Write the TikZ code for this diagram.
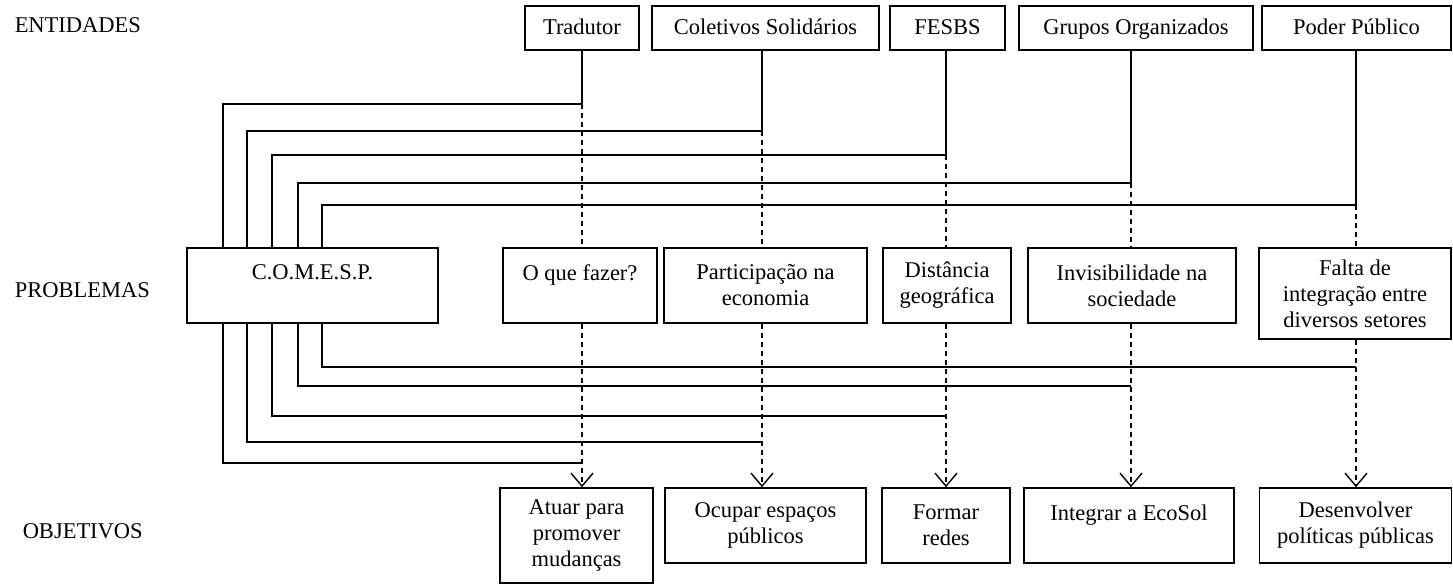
\documentclass[tikz,border=0pt]{standalone}
\usepackage{fontspec}
\setmainfont{Liberation Serif}
\usetikzlibrary{positioning,arrows.meta}

\begin{document}
\begin{tikzpicture}[x=1pt, y=-1pt, line width=1.5pt, >={Straight Barb[length=13pt,width=22pt,line width=1.4pt]}]
    % Define styles
    \tikzset{caixa/.style={draw, line width=1.6pt, align=center, inner sep=0pt, font=\fontsize{22.5}{26}\selectfont}}
    \tikzset{entidade/.style={caixa, minimum height=44pt, text height=15pt, text depth=2pt}}
    \tikzset{problema/.style={caixa, minimum height=75pt}}
    \tikzset{rotulo/.style={anchor=west, inner sep=0pt, font=\fontsize{22.5}{26}\selectfont}}
    \tikzset{tracejado/.style={dash pattern=on 5pt off 4pt}}

    \useasboundingbox (0,0) rectangle (1453,585);

    % Row labels
    \node[rotulo] (ent) at (14,25) {ENTIDADES};
    \node[rotulo] (prob) at (14,290) {PROBLEMAS};
    \node[rotulo] (obj) at (22,531) {OBJETIVOS};

    % Draw entities
    \node[entidade, minimum width=114pt] (trad) at (582,28) {Tradutor};
    \node[entidade, minimum width=227pt] (colet) at (765.5,28) {Coletivos Solidários};
    \node[entidade, minimum width=115pt] (fesbs) at (947.5,28) {FESBS};
    \node[entidade, minimum width=234pt] (grupos) at (1136,28) {Grupos Organizados};
    \node[entidade, minimum width=189pt] (poder) at (1356.5,28) {Poder Público};

    % Draw problems
    \node[problema, minimum width=251pt] (comesp) at (312.5,285.5) {C.O.M.E.S.P.\\\mbox{}};
    \node[problema, minimum width=154pt] (oque) at (580,285.5) {O que fazer?\\\mbox{}};
    \node[problema, minimum width=203pt] (partic) at (765.5,285.5) {Participação na\\economia};
    \node[problema, minimum width=128pt] (dist) at (947,285.5) {Distância\\geográfica};
    \node[problema, minimum width=208pt] (invis) at (1132,285.5) {Invisibilidade na\\sociedade};
    \node[problema, minimum width=192pt, minimum height=91pt] (falta) at (1355,293.5) {Falta de\\integração entre\\diversos setores};

    % Draw objectives
    \node[problema, minimum width=153pt, minimum height=95pt] (atuar) at (576.5,535.5) {Atuar para\\promover\\mudanças};
    \node[problema, minimum width=201pt] (ocupar) at (765.5,525.5) {Ocupar espaços\\públicos};
    \node[problema, minimum width=128pt] (formar) at (946,525.5) {Formar\\redes};
    \node[problema, minimum width=210pt] (integrar) at (1129,525.5) {Integrar a EcoSol\\\mbox{}};
    \node[problema, minimum width=192pt] (desenv) at (1355.5,525.5) {Desenvolver\\políticas públicas};

    % Junctions and return levels
    \coordinate (jtrad) at (582,104);
    \coordinate (jcolet) at (762,131);
    \coordinate (jfesbs) at (946,155);
    \coordinate (jgrupos) at (1131,183);
    \coordinate (jpoder) at (1356,205);
    \coordinate (rtrad) at (582,463);
    \coordinate (rcolet) at (762,442);
    \coordinate (rfesbs) at (946,416);
    \coordinate (rgrupos) at (1131,386);
    \coordinate (rpoder) at (1356,367);

    % Entities to C.O.M.E.S.P.
    \draw (trad.south -| jtrad) -- (jtrad) -| ([xshift=37pt]comesp.north west);
    \draw (colet.south -| jcolet) -- (jcolet) -| ([xshift=61pt]comesp.north west);
    \draw (fesbs.south -| jfesbs) -- (jfesbs) -| ([xshift=86pt]comesp.north west);
    \draw (grupos.south -| jgrupos) -- (jgrupos) -| ([xshift=112pt]comesp.north west);
    \draw (poder.south -| jpoder) -- (jpoder) -| ([xshift=136pt]comesp.north west);

    % C.O.M.E.S.P. back to each column
    \draw ([xshift=37pt]comesp.south west) |- (rtrad);
    \draw ([xshift=61pt]comesp.south west) |- (rcolet);
    \draw ([xshift=86pt]comesp.south west) |- (rfesbs);
    \draw ([xshift=112pt]comesp.south west) |- (rgrupos);
    \draw ([xshift=136pt]comesp.south west) |- (rpoder);

    % Entities to problems
    \draw[tracejado] (jtrad) -- (oque.north -| jtrad);
    \draw[tracejado] (jcolet) -- (partic.north -| jcolet);
    \draw[tracejado] (jfesbs) -- (dist.north -| jfesbs);
    \draw[tracejado] (jgrupos) -- (invis.north -| jgrupos);
    \draw[tracejado] (jpoder) -- (falta.north -| jpoder);

    % Problems to objectives
    \draw[tracejado, ->] (oque.south -| jtrad) -- (atuar.north -| jtrad);
    \draw[tracejado, ->] (partic.south -| jcolet) -- (ocupar.north -| jcolet);
    \draw[tracejado, ->] (dist.south -| jfesbs) -- (formar.north -| jfesbs);
    \draw[tracejado, ->] (invis.south -| jgrupos) -- (integrar.north -| jgrupos);
    \draw[tracejado, ->] (falta.south -| jpoder) -- (desenv.north -| jpoder);

\end{tikzpicture}
\end{document}
